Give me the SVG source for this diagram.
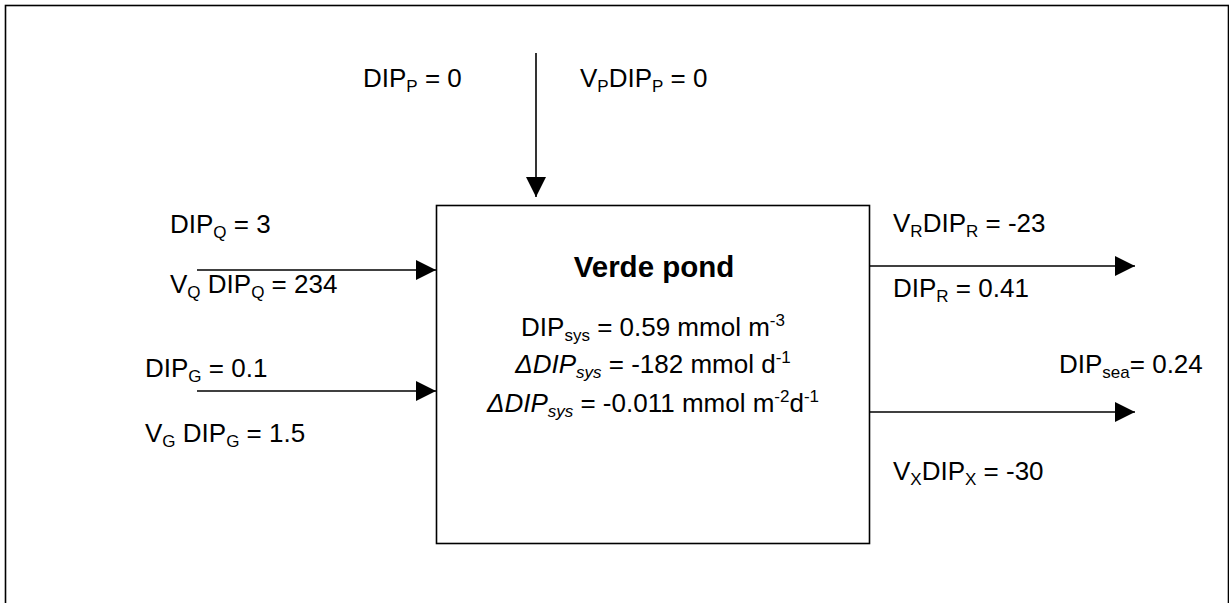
<svg xmlns="http://www.w3.org/2000/svg" width="1229" height="603" viewBox="0 0 1229 603">
<defs>
<style>
text{font-family:"Liberation Sans",Arial,sans-serif;font-size:26px;fill:#000}
.t{font-weight:bold;font-size:29.5px}
.c{text-anchor:middle}
.ln{stroke:#000;stroke-width:1.6;fill:none}
</style>
<marker id="ah" markerUnits="userSpaceOnUse" markerWidth="20" markerHeight="20" refX="20" refY="10" orient="auto" viewBox="0 0 20 20">
<path d="M0,0 L20,10 L0,20 z" fill="#000"/>
</marker>
</defs>
<rect x="5.5" y="5.5" width="1223" height="700" fill="none" stroke="#000" stroke-width="1.6"/>
<g id="connectors">
<line class="ln" x1="536" y1="53" x2="536" y2="197" marker-end="url(#ah)"/>
<line class="ln" x1="197" y1="270" x2="436" y2="270" marker-end="url(#ah)"/>
<line class="ln" x1="197" y1="391" x2="436" y2="391" marker-end="url(#ah)"/>
<line class="ln" x1="870" y1="266" x2="1135" y2="266" marker-end="url(#ah)"/>
<line class="ln" x1="870" y1="412" x2="1135" y2="412" marker-end="url(#ah)"/>
</g>
<g id="pond">
<rect x="436.5" y="205.5" width="433" height="338" fill="#fff" stroke="#000" stroke-width="1.6"/>
<text class="t c" x="654" y="277">Verde pond</text>
<text class="c" x="653" y="336">DIP<tspan font-size="17" dy="5">sys</tspan><tspan dy="-5"> = 0.59 mmol m</tspan><tspan font-size="17" dy="-10">-3</tspan></text>
<text class="c" x="653" y="373"><tspan font-style="italic">ΔDIP</tspan><tspan font-size="17" font-style="italic" dy="5">sys</tspan><tspan dy="-5"> = -182 mmol d</tspan><tspan font-size="17" dy="-10">-1</tspan></text>
<text class="c" x="653" y="412"><tspan font-style="italic">ΔDIP</tspan><tspan font-size="17" font-style="italic" dy="5">sys</tspan><tspan dy="-5"> = -0.011 mmol m</tspan><tspan font-size="17" dy="-10">-2</tspan><tspan dy="10">d</tspan><tspan font-size="17" dy="-10">-1</tspan></text>
</g>
<g id="precip">
<text x="363" y="87">DIP<tspan font-size="17" dy="5">P</tspan><tspan dy="-5"> = 0</tspan></text>
<text x="580" y="87">V<tspan font-size="17" dy="5">P</tspan><tspan dy="-5">DIP</tspan><tspan font-size="17" dy="5">P</tspan><tspan dy="-5"> = 0</tspan></text>
</g>
<g id="runoff">
<text x="170" y="233">DIP<tspan font-size="17" dy="5">Q</tspan><tspan dy="-5"> = 3</tspan></text>
<text x="170" y="293">V<tspan font-size="17" dy="5">Q</tspan><tspan dy="-5"> DIP</tspan><tspan font-size="17" dy="5">Q</tspan><tspan dy="-5"> = 234</tspan></text>
</g>
<g id="groundwater">
<text x="145" y="377">DIP<tspan font-size="17" dy="5">G</tspan><tspan dy="-5"> = 0.1</tspan></text>
<text x="145" y="442">V<tspan font-size="17" dy="5">G</tspan><tspan dy="-5"> DIP</tspan><tspan font-size="17" dy="5">G</tspan><tspan dy="-5"> = 1.5</tspan></text>
</g>
<g id="residual">
<text x="893" y="232">V<tspan font-size="17" dy="5">R</tspan><tspan dy="-5">DIP</tspan><tspan font-size="17" dy="5">R</tspan><tspan dy="-5"> = -23</tspan></text>
<text x="893" y="297">DIP<tspan font-size="17" dy="5">R</tspan><tspan dy="-5"> = 0.41</tspan></text>
</g>
<g id="exchange">
<text x="1059" y="373">DIP<tspan font-size="17" dy="5">sea</tspan><tspan dy="-5">= 0.24</tspan></text>
<text x="893" y="480">V<tspan font-size="17" dy="5">X</tspan><tspan dy="-5">DIP</tspan><tspan font-size="17" dy="5">X</tspan><tspan dy="-5"> = -30</tspan></text>
</g>
</svg>
